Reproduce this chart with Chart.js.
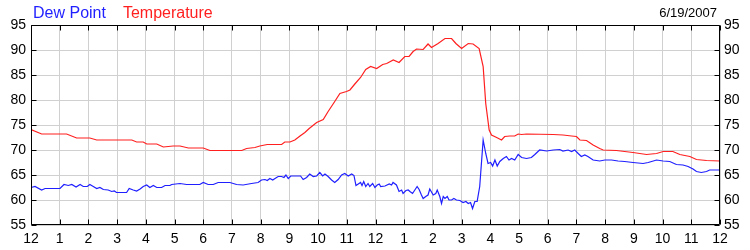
<!DOCTYPE html>
<html>
<head>
<meta charset="utf-8">
<script src="https://cdn.jsdelivr.net/npm/chart.js@4.4.1/dist/chart.umd.min.js"></script>
<style>
  body { margin: 0; background: #fff; }
  #wrap { width: 750px; height: 250px; position: relative; }
</style>
</head>
<body>
<div id="wrap"><canvas id="chart" width="750" height="250"></canvas></div>
<script>
// x tick labels, one per hour from midnight to midnight
const hourLabels = ['12','1','2','3','4','5','6','7','8','9','10','11',
                    '12','1','2','3','4','5','6','7','8','9','10','11','12'];
const yTicks = [55, 60, 65, 70, 75, 80, 85, 90, 95];
const dateText = '6/19/2007';

// temperature readings (hour of day, degrees F)
const tempHours = [0, 0.37, 1.24, 1.59, 2.05, 2.29, 3.51, 3.68, 3.91, 4.03, 4.38, 4.61, 4.95, 5.19, 5.48,
  6.0, 6.23, 7.34, 7.51, 7.8, 7.97, 8.23, 8.73, 8.84, 9.02, 9.19, 9.37, 9.54, 9.69, 9.95,
  10.18, 10.35, 10.58, 10.76, 10.99, 11.11, 11.28, 11.48, 11.66, 11.83, 12.04, 12.25, 12.39, 12.62, 12.82,
  13.02, 13.17, 13.31, 13.43, 13.66, 13.83, 13.95, 14.18, 14.42, 14.65, 14.8, 15.0, 15.23, 15.4, 15.61,
  15.75, 15.84, 15.96, 16.04, 16.22, 16.39, 16.5, 16.68, 16.85, 16.97, 17.09, 17.26, 18.19, 18.53, 18.83,
  19.0, 19.12, 19.35, 19.58, 19.81, 19.93, 20.39, 20.97, 21.44, 21.79, 22.02, 22.36, 22.6, 22.95, 23.18,
  23.53, 24];
const tempValues = [74.1, 73.2, 73.2, 72.4, 72.4, 72.0, 72.0, 71.6, 71.6, 71.2, 71.2, 70.6, 70.8, 70.8, 70.4,
  70.4, 69.9, 69.9, 70.3, 70.5, 70.8, 71.1, 71.1, 71.6, 71.6, 72.0, 72.8, 73.5, 74.3, 75.5,
  76.1, 77.7, 79.7, 81.3, 81.7, 82.0, 83.2, 84.5, 86.1, 86.7, 86.3, 87.1, 87.3, 88.0, 87.5,
  88.7, 88.7, 89.7, 90.2, 90.1, 91.2, 90.5, 91.3, 92.3, 92.3, 91.3, 90.3, 91.3, 91.2, 90.3,
  86.7, 79.3, 74.0, 73.0, 72.5, 72.0, 72.7, 72.8, 72.8, 73.2, 73.1, 73.2, 73.1, 73.0, 72.8,
  72.7, 72.0, 71.9, 71.0, 70.3, 70.0, 69.9, 69.5, 69.1, 69.3, 69.7, 69.7, 69.1, 68.7, 68.1,
  67.9, 67.8];

// dew point readings (hour of day, degrees F)
const dewHours = [0, 0.14, 0.37, 0.49, 1.01, 1.15, 1.3, 1.42, 1.57, 1.71, 1.82, 1.96, 2.05, 2.17, 2.29,
  2.4, 2.52, 2.69, 2.81, 2.9, 2.98, 3.33, 3.42, 3.56, 3.68, 3.8, 3.91, 4.03, 4.14, 4.26,
  4.38, 4.55, 4.67, 4.84, 4.9, 5.19, 5.42, 5.88, 6.0, 6.17, 6.35, 6.52, 6.93, 7.16, 7.39,
  7.68, 7.91, 8.03, 8.15, 8.23, 8.32, 8.42, 8.5, 8.61, 8.73, 8.81, 8.88, 8.96, 9.05, 9.39,
  9.48, 9.6, 9.71, 9.83, 9.95, 10.06, 10.16, 10.24, 10.35, 10.47, 10.58, 10.7, 10.82, 10.93, 11.05,
  11.17, 11.25, 11.32, 11.4, 11.48, 11.53, 11.59, 11.66, 11.74, 11.8, 11.9, 11.98, 12.06, 12.13, 12.18,
  12.33, 12.48, 12.56, 12.61, 12.73, 12.82, 12.91, 12.96, 13.06, 13.14, 13.2, 13.29, 13.37, 13.45, 13.52,
  13.6, 13.66, 13.75, 13.83, 13.89, 14.01, 14.1, 14.15, 14.24, 14.3, 14.36, 14.42, 14.5, 14.56, 14.65,
  14.73, 14.82, 14.94, 15.05, 15.15, 15.23, 15.31, 15.38, 15.46, 15.54, 15.63, 15.75, 15.84, 15.92, 16.01,
  16.08, 16.16, 16.24, 16.33, 16.45, 16.56, 16.65, 16.74, 16.85, 16.97, 17.09, 17.26, 17.43, 17.55, 17.66,
  17.72, 17.96, 18.19, 18.42, 18.53, 18.71, 18.83, 18.94, 19.06, 19.17, 19.29, 19.4, 19.58, 19.81, 19.99,
  20.22, 20.45, 20.68, 20.97, 21.32, 21.5, 21.79, 22.02, 22.25, 22.48, 22.71, 22.89, 23.06, 23.18, 23.35,
  23.53, 23.64, 24];
const dewValues = [62.5, 62.7, 62.0, 62.3, 62.3, 63.1, 62.9, 63.1, 62.6, 63.1, 62.7, 62.7, 63.1, 62.7, 62.3,
  62.5, 62.1, 62.0, 61.7, 61.8, 61.5, 61.5, 62.3, 62.0, 61.8, 62.2, 62.7, 63.0, 62.5, 62.9,
  62.5, 62.5, 62.9, 62.9, 63.1, 63.3, 63.1, 63.1, 63.5, 63.1, 63.1, 63.5, 63.5, 63.1, 63.0,
  63.3, 63.5, 64.0, 64.1, 63.9, 64.3, 64.0, 64.3, 64.7, 64.7, 64.5, 65.0, 64.3, 64.8, 64.8,
  64.1, 64.5, 65.2, 64.7, 64.8, 65.5, 64.8, 65.2, 64.7, 64.0, 63.5, 64.1, 65.0, 65.3, 64.8,
  65.2, 64.9, 62.9, 63.2, 63.5, 62.9, 63.7, 62.7, 63.3, 62.7, 63.3, 62.5, 63.0, 63.2, 62.7,
  62.8, 63.2, 63.0, 63.5, 63.0, 61.7, 62.0, 61.3, 61.9, 62.0, 61.7, 61.3, 62.0, 62.7, 62.1,
  61.0, 60.3, 60.7, 61.0, 62.2, 61.0, 61.3, 62.0, 60.7, 59.3, 60.7, 60.3, 60.7, 60.0, 60.0,
  60.3, 60.0, 59.9, 59.5, 59.7, 59.3, 59.5, 58.3, 59.7, 59.7, 62.7, 72.0, 69.3, 67.3, 67.5,
  66.8, 68.0, 66.8, 67.7, 68.3, 68.7, 68.0, 68.3, 68.0, 69.1, 68.5, 68.3, 68.5, 69.1, 69.7,
  70.0, 69.8, 70.0, 70.1, 69.8, 70.0, 69.7, 70.0, 69.3, 68.7, 69.0, 68.7, 68.0, 67.8, 68.0,
  68.0, 67.8, 67.7, 67.5, 67.3, 67.5, 68.0, 67.8, 67.7, 67.1, 67.0, 66.7, 66.2, 65.7, 65.5,
  65.7, 66.0, 66.0];

const seriesNames = ['Dew Point', 'Temperature'];
const seriesColors = ['#1f1fff', '#ff1f1f'];

const toPoints = (xs, ys) => xs.map((x, i) => ({ x: x, y: ys[i] }));
const FONT = 'Arial, "Liberation Sans", sans-serif';

// frame, inward tick marks, legend text and date
const decorPlugin = {
  id: 'decor',
  afterDraw(chart) {
    const ctx = chart.ctx;
    const a = chart.chartArea;
    const xs = chart.scales.x;
    const ys = chart.scales.y;
    const L = Math.round(a.left) + 0.5, R = Math.round(a.right) - 0.5;
    const T = Math.round(a.top) + 0.5, B = Math.round(a.bottom) - 0.5;
    ctx.save();
    ctx.strokeStyle = '#000';
    ctx.lineWidth = 1;
    ctx.beginPath();
    ctx.rect(L, T, R - L, B - T);
    hourLabels.forEach((_, h) => {
      const px = Math.round(xs.getPixelForValue(h)) + 0.5;
      ctx.moveTo(px, T); ctx.lineTo(px, T + 5);
      ctx.moveTo(px, B); ctx.lineTo(px, B - 5);
    });
    yTicks.forEach(v => {
      const py = Math.round(ys.getPixelForValue(v)) + 0.5;
      ctx.moveTo(L, py); ctx.lineTo(L + 5, py);
      ctx.moveTo(R, py); ctx.lineTo(R - 5, py);
    });
    ctx.stroke();

    ctx.textBaseline = 'alphabetic';
    ctx.font = '16px ' + FONT;
    ctx.textAlign = 'left';
    let x = 33;
    seriesNames.forEach((name, i) => {
      ctx.fillStyle = seriesColors[i];
      ctx.fillText(name, x, 18);
      x += ctx.measureText(name).width + 17;
    });
    ctx.font = '13px ' + FONT;
    ctx.fillStyle = '#000';
    ctx.textAlign = 'right';
    ctx.fillText(dateText, 717, 17);
    ctx.restore();
  }
};

new Chart(document.getElementById('chart'), {
  type: 'line',
  data: {
    datasets: [
      { label: seriesNames[0], data: toPoints(dewHours, dewValues), borderColor: seriesColors[0],
        borderWidth: 1.2, pointRadius: 0, tension: 0, fill: false },
      { label: seriesNames[1], data: toPoints(tempHours, tempValues), borderColor: seriesColors[1],
        borderWidth: 1.2, pointRadius: 0, tension: 0, fill: false }
    ]
  },
  options: {
    responsive: false,
    animation: false,
    layout: { padding: { top: 25, left: 0, right: 0, bottom: 0 } },
    plugins: { legend: { display: false }, tooltip: { enabled: false } },
    scales: {
      x: {
        type: 'linear', min: 0, max: 24,
        afterFit: s => { s.height = 25; },
        afterBuildTicks: s => { s.ticks = hourLabels.map((_, h) => ({ value: h })); },
        ticks: { autoSkip: false, maxRotation: 0, padding: 6, color: '#000',
                 font: { family: FONT, size: 14 }, callback: v => hourLabels[v] },
        grid: { color: '#d0d0d0', drawTicks: false },
        border: { display: false }
      },
      y: {
        position: 'left', min: 55, max: 95,
        afterFit: s => { s.width = 31; },
        afterBuildTicks: s => { s.ticks = yTicks.map(v => ({ value: v })); },
        ticks: { padding: 5, color: '#000', font: { family: FONT, size: 14 } },
        grid: { color: '#d0d0d0', drawTicks: false },
        border: { display: false }
      },
      y2: {
        position: 'right', min: 55, max: 95,
        afterFit: s => { s.width = 30; },
        afterBuildTicks: s => { s.ticks = yTicks.map(v => ({ value: v })); },
        ticks: { padding: 4, color: '#000', font: { family: FONT, size: 14 } },
        grid: { display: false, drawTicks: false },
        border: { display: false }
      }
    }
  },
  plugins: [decorPlugin]
});
</script>
</body>
</html>
